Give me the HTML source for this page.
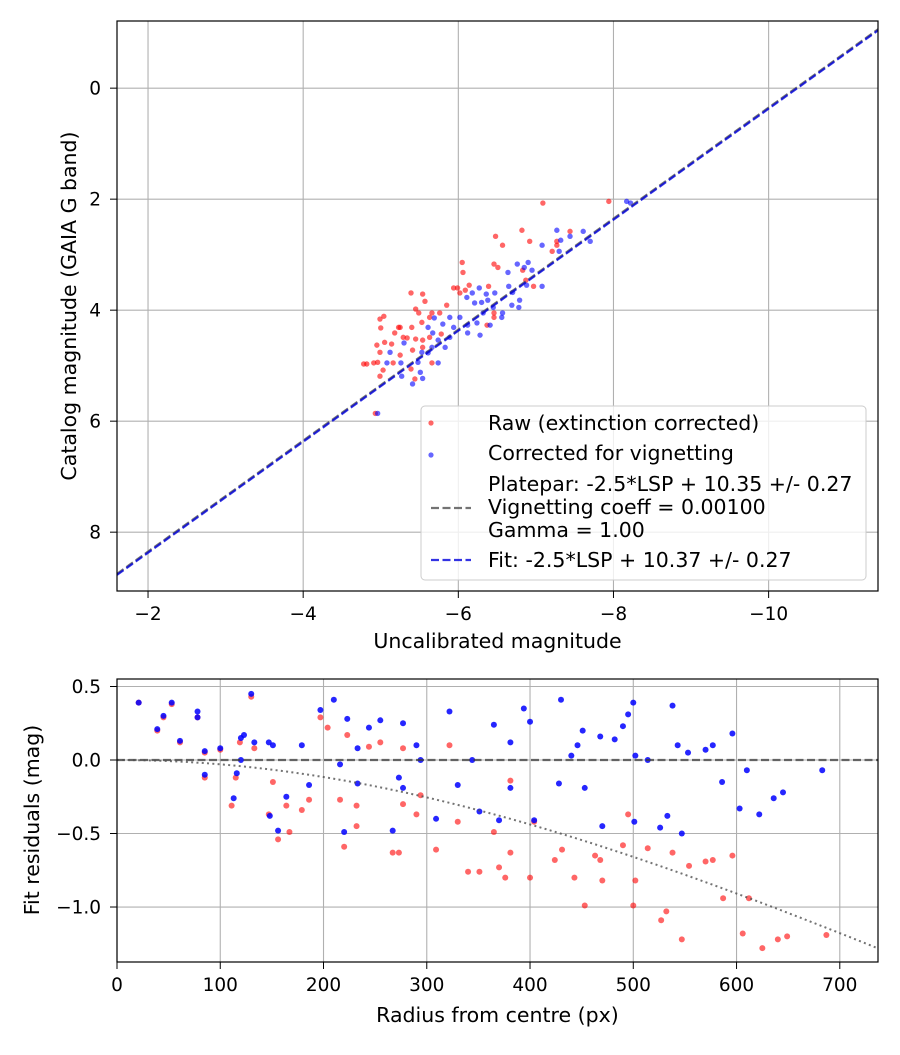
<!DOCTYPE html>
<html><head><meta charset="utf-8"><style>
body{margin:0;background:#fff;}
svg text{font-family:"DejaVu Sans","Liberation Sans",sans-serif;fill:#000;}
</style></head><body>
<svg id="c" width="900" height="1050" viewBox="0 0 900 1050" xmlns="http://www.w3.org/2000/svg"></svg>
<script>
// ---- top panel data ----
const rawX=[-7.09,-7.94,-6.82,-6.48,-6.57,-6.92,-7.44,-7.27,-7.27,-7.21,-6.05,-6.06,-6.46,-6.51,-6.83,-6.87,-6.97,-5.94,-5.99,-6.14,-6.39,-5.39,-5.54,-5.57,-6.02,-6.09,-5.45,-5.49,-5.85,-5.76,-5.66,-5.04,-4.99,-5.00,-5.25,-5.40,-5.53,-5.63,-6.46,-5.05,-4.95,-5.14,-5.23,-5.18,-5.34,-5.45,-5.54,-5.63,-4.99,-5.03,-4.99,-4.78,-4.82,-4.91,-4.96,-5.16,-5.25,-5.41,-5.54,-5.39,-5.44,-5.66,-5.78,-4.93,-5.29,-6.37,-6.46];
const rawY=[2.07,2.04,2.56,2.67,2.83,2.76,2.58,2.76,2.83,2.94,3.14,3.32,3.17,3.23,3.28,3.46,3.57,3.60,3.60,3.55,3.57,3.69,3.71,3.84,3.69,3.64,3.98,4.05,3.91,4.05,4.05,4.11,4.16,4.32,4.31,4.31,4.22,4.13,4.13,4.58,4.63,4.61,4.31,4.41,4.50,4.52,4.54,4.49,4.76,5.08,5.19,4.97,4.97,4.95,4.94,4.95,4.81,4.72,4.67,5.06,5.24,4.95,4.43,5.86,4.49,4.27,4.05];
const corX=[-8.17,-8.22,-7.27,-7.44,-7.61,-7.70,-7.08,-7.32,-7.30,-6.90,-6.76,-6.85,-6.95,-6.64,-7.08,-6.88,-6.65,-6.70,-6.79,-6.78,-6.69,-6.57,-6.56,-6.47,-6.36,-6.27,-6.18,-6.11,-6.21,-6.30,-6.38,-6.45,-6.32,-6.24,-6.12,-6.28,-6.41,-6.02,-5.94,-5.89,-5.83,-5.80,-5.69,-5.61,-5.67,-5.74,-5.66,-5.61,-5.53,-5.48,-5.51,-5.54,-5.41,-5.30,-5.26,-5.12,-5.08,-5.27,-5.74,-4.96,-6.12,-5.89];
const corY=[2.04,2.07,2.56,2.67,2.58,2.76,2.83,2.74,2.94,3.14,3.17,3.23,3.28,3.32,3.57,3.55,3.57,3.68,3.82,3.95,3.91,4.05,4.13,3.69,3.71,3.60,3.69,3.77,3.87,3.86,3.82,3.95,4.05,4.23,4.27,4.45,4.27,4.13,4.31,4.49,4.67,4.25,4.14,4.31,4.41,4.54,4.67,4.77,4.76,4.94,5.12,5.23,5.33,4.59,4.95,4.76,4.95,5.19,4.95,5.86,4.41,4.13];
const plateOffset=10.35, fitOffset=10.37;
const topXTicks=[-2,-4,-6,-8,-10];
const topYTicks=[0,2,4,6,8];
// ---- bottom panel data ----
const radR=[21,39,45,53,61,78,85,85,100,111,115,119,130,133,147,151,156,164,167,179,186,197,204,216,220,223,232,232,244,255,267,273,277,277,290,294,309,322,330,340,351,365,370,376,381,381,400,404,424,431,443,453,463,468,470,490,495,500,502,514,527,532,538,547,554,570,577,587,596,606,612,625,640,649,687];
const resR=[0.39,0.20,0.29,0.38,0.12,0.29,0.05,-0.12,0.07,-0.31,-0.12,0.12,0.43,0.08,-0.37,-0.15,-0.54,-0.31,-0.49,-0.34,-0.27,0.29,0.22,-0.27,-0.59,0.17,-0.31,-0.45,0.09,0.12,-0.63,-0.63,0.08,-0.30,-0.37,-0.24,-0.61,0.10,-0.42,-0.76,-0.76,-0.49,-0.73,-0.80,-0.63,-0.14,-0.80,-0.42,-0.68,-0.61,-0.80,-0.99,-0.65,-0.68,-0.82,-0.58,-0.37,-0.99,-0.82,-0.60,-1.09,-1.03,-0.63,-1.22,-0.72,-0.69,-0.68,-0.94,-0.65,-1.18,-0.94,-1.28,-1.22,-1.20,-1.19];
const radC=[21,39,45,53,61,78,78,85,85,100,113,116,120,123,120,130,133,147,148,151,156,164,179,186,197,210,216,220,223,233,233,244,255,267,273,277,277,290,294,309,322,330,344,351,365,370,381,381,394,400,404,428,430,440,446,451,453,468,470,482,490,495,500,501,502,514,526,533,538,543,547,553,570,577,586,596,603,610,622,636,645,683];
const resC=[0.39,0.21,0.30,0.39,0.13,0.33,0.29,0.06,-0.10,0.08,-0.26,-0.09,0.15,0.17,0,0.45,0.12,0.12,-0.38,0.10,-0.48,-0.25,0.10,-0.17,0.34,0.41,-0.03,-0.49,0.28,0.08,-0.16,0.22,0.27,-0.48,-0.12,0.25,-0.19,0.10,0,-0.40,0.33,-0.17,0,-0.35,0.24,-0.41,-0.19,0.12,0.35,0.26,-0.41,-0.16,0.41,0.03,0.10,0.20,-0.19,0.16,-0.45,0.14,0.23,0.31,0.39,-0.42,0.03,0,-0.46,-0.38,0.37,0.10,-0.50,0.05,0.07,0.10,-0.15,0.18,-0.33,-0.07,-0.37,-0.26,-0.22,-0.07];
const vignCoeff=0.001, vignScale=1.36;
const botXTicks=[0,100,200,300,400,500,600,700];
const botYTicks=[0.5,0,-0.5,-1.0];
const botYLabels=["0.5","0.0","\u22120.5","\u22121.0"];

const NS="http://www.w3.org/2000/svg";
const svg=document.getElementById('c');
function mk(tag,attrs,parent){const e=document.createElementNS(NS,tag);for(const k in attrs)e.setAttribute(k,attrs[k]);(parent||svg).appendChild(e);return e;}

const T={l:117,r:878,t:21,b:591,x0:-1.60,x1:-11.41,y0:-1.21,y1:9.06};
const tx=v=>T.l+(v-T.x0)/(T.x1-T.x0)*(T.r-T.l);
const ty=v=>T.t+(v-T.y0)/(T.y1-T.y0)*(T.b-T.t);
const B={l:117,r:878,t:679,b:962,x0:0,x1:737,y0:0.551,y1:-1.374};
const bx=v=>B.l+(v-B.x0)/(B.x1-B.x0)*(B.r-B.l);
const by=v=>B.t+(v-B.y0)/(B.y1-B.y0)*(B.b-B.t);
const TF=18.5, LF=20.5;

function grid(A,xt,yt,fx,fy,g){
  xt.forEach(v=>{const l=mk('line',{x1:fx(v),x2:fx(v),y1:A.t,y2:A.b,stroke:'#b0b0b0','stroke-width':1.1},g);
    
    });
  yt.forEach(v=>{const l=mk('line',{x1:A.l,x2:A.r,y1:fy(v),y2:fy(v),stroke:'#b0b0b0','stroke-width':1.1},g);
    
    });
}
function ticks(A,xt,xl,yt,yl,fx,fy,g){
  xt.forEach((v,i)=>{mk('line',{x1:fx(v),x2:fx(v),y1:A.b,y2:A.b+7,stroke:'#000'},g);
    const t=mk('text',{x:fx(v),y:A.b+29,'text-anchor':'middle','font-size':TF},g);t.textContent=xl[i];
    
    });
  yt.forEach((v,i)=>{mk('line',{x1:A.l-7,x2:A.l,y1:fy(v),y2:fy(v),stroke:'#000'},g);
    const t=mk('text',{x:A.l-16,y:fy(v)+6.5,'text-anchor':'end','font-size':TF},g);t.textContent=yl[i];
    
    });
}
function clip(id,A){const cp=mk('clipPath',{id:id});mk('rect',{x:A.l,y:A.t,width:A.r-A.l,height:A.b-A.t},cp);}
clip('ct',T);clip('cb',B);

// ---- TOP ----
const gt=mk('g',{});


grid(T,topXTicks,topYTicks,tx,ty,gt);
const st=mk('g',{'clip-path':'url(#ct)'},gt);
rawX.forEach((v,i)=>{const c=mk('circle',{cx:tx(v),cy:ty(rawY[i]),r:2.7,fill:'rgba(255,0,0,0.6)'},st);
  
  });
corX.forEach((v,i)=>{const c=mk('circle',{cx:tx(v),cy:ty(corY[i]),r:2.7,fill:'rgba(0,0,255,0.6)'},st);
  
  });
[[plateOffset,'rgba(80,80,80,0.8)','platepar-line'],[fitOffset,'rgba(0,0,220,0.8)','fit-line']].forEach(([o,col,nm])=>{
  const l=mk('line',{x1:tx(T.x0),y1:ty(T.x0+o),x2:tx(T.x1),y2:ty(T.x1+o),stroke:col,'stroke-width':2.2,'stroke-dasharray':'8,3.5'},st);
  
  });
ticks(T,topXTicks,topXTicks.map(v=>'\u2212'+Math.abs(v)),topYTicks,topYTicks.map(String),tx,ty,gt);
mk('rect',{x:T.l,y:T.t,width:T.r-T.l,height:T.b-T.t,fill:'none',stroke:'#000','stroke-width':1.2},gt);
let t=mk('text',{x:(T.l+T.r)/2,y:648,'text-anchor':'middle','font-size':LF},gt);t.textContent='Uncalibrated magnitude';


t=mk('text',{x:0,y:0,'text-anchor':'middle','font-size':LF,transform:'translate(76,306) rotate(-90)'},gt);t.textContent='Catalog magnitude (GAIA G band)';



// legend
const lg=mk('g',{},gt);


mk('rect',{x:421,y:406,width:445,height:174,rx:4,fill:'rgba(255,255,255,0.8)',stroke:'#ccc'},lg);
function ltext(s,y,nm){const e=mk('text',{x:488,y:y,'font-size':LF},lg);e.textContent=s;
  
  }
mk('circle',{cx:431,cy:423,r:2.6,fill:'rgba(255,0,0,0.6)'},lg);ltext('Raw (extinction corrected)',430,'legend-raw');
mk('circle',{cx:431,cy:455,r:2.6,fill:'rgba(0,0,255,0.6)'},lg);ltext('Corrected for vignetting',460,'legend-corrected');
mk('line',{x1:431,x2:471,y1:508,y2:508,stroke:'rgba(80,80,80,0.8)','stroke-width':2.2,'stroke-dasharray':'8,3.5'},lg);
ltext('Platepar: -2.5*LSP + 10.35 +/- 0.27',491,'legend-platepar');ltext('Vignetting coeff = 0.00100',514,'legend-vignetting');ltext('Gamma = 1.00',537,'legend-gamma');
mk('line',{x1:431,x2:471,y1:560,y2:560,stroke:'rgba(0,0,220,0.8)','stroke-width':2.2,'stroke-dasharray':'8,3.5'},lg);
ltext('Fit: -2.5*LSP + 10.37 +/- 0.27',567,'legend-fit');

// ---- BOTTOM ----
const gb=mk('g',{});


grid(B,botXTicks,botYTicks,bx,by,gb);
const sb=mk('g',{'clip-path':'url(#cb)'},gb);
radR.forEach((v,i)=>{const c=mk('circle',{cx:bx(v),cy:by(resR[i]),r:3,fill:'rgba(255,0,0,0.6)'},sb);
  
  });
radC.forEach((v,i)=>{const c=mk('circle',{cx:bx(v),cy:by(resC[i]),r:3,fill:'rgba(0,0,255,0.85)'},sb);
  
  });
let l=mk('line',{x1:B.l,x2:B.r,y1:by(0),y2:by(0),stroke:'rgba(60,60,60,0.75)','stroke-width':2.2,'stroke-dasharray':'8,3.5'},sb);


let pts=[];for(let r=0;r<=737;r+=5){const c=Math.cos(Math.atan(vignCoeff*r));pts.push(bx(r)+','+by(vignScale*2.5*Math.log10(Math.pow(c,4))));}
l=mk('polyline',{points:pts.join(' '),fill:'none',stroke:'rgba(80,80,80,0.8)','stroke-width':2,'stroke-dasharray':'2,3.3'},sb);


ticks(B,botXTicks,botXTicks.map(String),botYTicks,botYLabels,bx,by,gb);
mk('rect',{x:B.l,y:B.t,width:B.r-B.l,height:B.b-B.t,fill:'none',stroke:'#000','stroke-width':1.2},gb);
t=mk('text',{x:(B.l+B.r)/2,y:1022,'text-anchor':'middle','font-size':LF},gb);t.textContent='Radius from centre (px)';


t=mk('text',{x:0,y:0,'text-anchor':'middle','font-size':LF,transform:'translate(39,820) rotate(-90)'},gb);t.textContent='Fit residuals (mag)';


</script>
</body></html>
